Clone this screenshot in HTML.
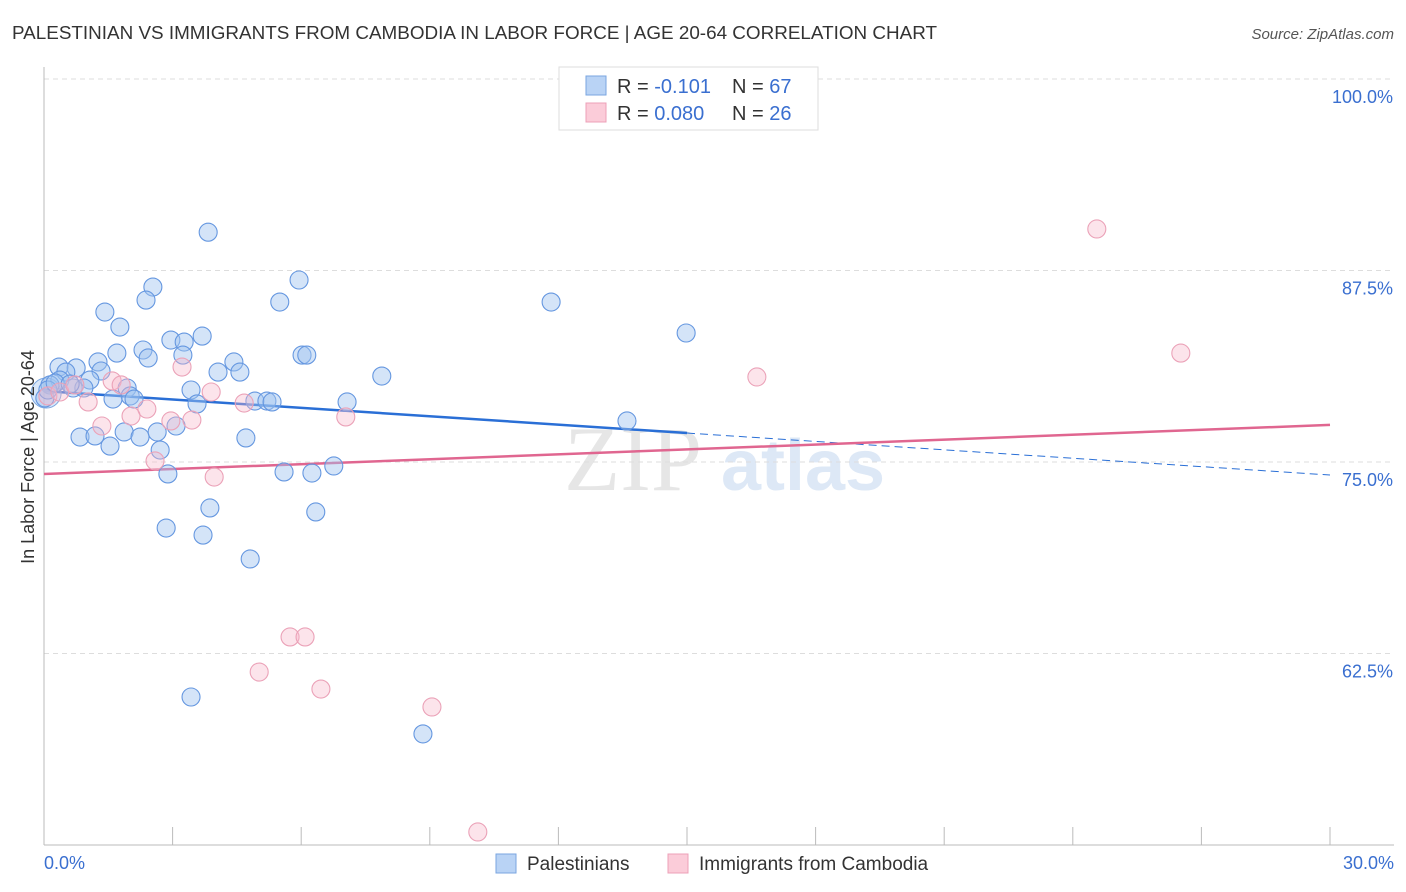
<!DOCTYPE html>
<html><head><meta charset="utf-8"><style>
body{margin:0;background:#fff;font-family:"Liberation Sans",sans-serif}
svg{display:block}
</style></head><body>
<svg id="chart" width="1406" height="892">
<text x="12" y="39" font-size="18" fill="#333" textLength="925" lengthAdjust="spacingAndGlyphs">PALESTINIAN VS IMMIGRANTS FROM CAMBODIA IN LABOR FORCE | AGE 20-64 CORRELATION CHART</text>
<text x="1394" y="39" font-size="15" fill="#555" font-style="italic" text-anchor="end">Source: ZipAtlas.com</text>
<g>
<text x="633" y="490" font-size="92" fill="#e6e6e6" font-family="Liberation Serif,serif" text-anchor="middle">ZIP</text>
<text x="803" y="490" font-size="72" fill="#dde8f6" text-anchor="middle" font-weight="bold">atlas</text>
</g>
<g id="grid"></g><g id="axes"></g><g id="trend"></g><g id="pts"></g>
<text transform="translate(34,457) rotate(-90)" font-size="18" fill="#333" text-anchor="middle">In Labor Force | Age 20-64</text>
<text x="44" y="869" font-size="18" fill="#3a6fd0">0.0%</text>
<text x="1394" y="869" font-size="18" fill="#3a6fd0" text-anchor="end">30.0%</text>
<g>
<rect x="559" y="67" width="259" height="63" fill="#fff" stroke="#ddd"/>
<rect x="586" y="76" width="20" height="19" fill="#b9d3f5" stroke="#7aa6e0"/>
<rect x="586" y="103" width="20" height="19" fill="#fbccd9" stroke="#eda0b8"/>
<text x="617" y="93" font-size="20" fill="#333">R = <tspan fill="#3a6fd0">-0.101</tspan><tspan x="732">N = </tspan><tspan fill="#3a6fd0">67</tspan></text>
<text x="617" y="120" font-size="20" fill="#333">R = <tspan fill="#3a6fd0">0.080</tspan><tspan x="732">N = </tspan><tspan fill="#3a6fd0">26</tspan></text>
</g>
<g>
<rect x="496" y="854" width="20" height="19" fill="#b9d3f5" stroke="#7aa6e0"/>
<text x="527" y="870" font-size="19" fill="#333">Palestinians</text>
<rect x="668" y="854" width="20" height="19" fill="#fbccd9" stroke="#eda0b8"/>
<text x="699" y="870" font-size="19" fill="#333">Immigrants from Cambodia</text>
</g>
</svg>
<script>
const yTicks=[100,87.5,75,62.5];
const yTickLabels=["100.0%","87.5%","75.0%","62.5%"];
const xTicks=[0,3,6,9,12,15,18,21,24,27,30];
const blueX=[3.83,2.54,2.38,5.95,5.50,1.42,1.77,2.96,3.69,3.27,1.70,2.31,2.43,3.24,6.02,6.13,4.43,4.57,4.06,1.26,0.35,0.75,0.51,1.33,1.07,0.37,0.14,0.68,0.93,1.94,2.01,1.61,2.10,3.43,3.57,4.92,5.20,5.32,7.07,7.88,11.83,14.98,13.60,0.84,1.19,1.87,2.24,2.64,3.08,1.54,2.71,4.71,2.89,5.60,6.25,6.76,3.87,6.34,2.85,3.71,4.81,3.43,8.84,0.02,0.09,0.26,0.61];
const blueY=[90.0,86.42,85.57,86.88,85.44,84.79,83.81,82.96,83.22,82.83,82.11,82.31,81.79,81.98,81.98,81.98,81.53,80.87,80.87,81.53,81.20,81.14,80.87,80.94,80.35,80.35,80.03,79.83,79.83,79.83,79.31,79.11,79.11,79.70,78.79,78.98,78.98,78.92,78.92,80.61,85.44,83.42,77.68,76.63,76.70,76.96,76.63,76.96,77.35,76.04,75.78,76.57,74.22,74.35,74.28,74.74,72.00,71.74,70.69,70.23,68.67,59.66,57.25,79.18,79.70,80.16,80.09];
const pinkX=[24.56,26.52,16.63,3.22,3.90,1.59,1.80,1.03,2.40,4.67,2.03,2.96,3.45,7.04,1.35,2.59,3.97,5.74,6.09,5.02,6.46,9.05,10.12,0.09,0.37,0.72];
const pinkY=[90.21,82.11,80.55,81.20,79.57,80.29,80.03,78.92,78.46,78.85,78.0,77.68,77.74,77.94,77.35,75.07,74.02,63.58,63.58,61.29,60.18,59.01,50.85,79.31,79.57,80.03];
const blueTrend=[79.63,74.15];
const pinkTrend=[74.22,77.42];
const X0=44,X1=1330,Y0=845,PX=(X1-X0)/30,PY=15.32;
const sx=v=>X0+v*PX, sy=v=>Y0-(v-50)*PY;
const NS="http://www.w3.org/2000/svg";
function mk(tag,attrs,parent){const e=document.createElementNS(NS,tag);for(const k in attrs)e.setAttribute(k,attrs[k]);document.getElementById(parent).appendChild(e);return e;}
yTicks.forEach((t,i)=>{
 const l=mk('line',{x1:X0,x2:1394,y1:sy(t),y2:sy(t),stroke:'#ddd','stroke-dasharray':'5,4'},'grid');
 
 
 const tx=mk('text',{x:1393,y:sy(t)+24,'font-size':18,fill:'#3a6fd0','text-anchor':'end'},'grid');
 tx.textContent=yTickLabels[i];
 
 
});
const ya=mk('line',{x1:X0,x2:X0,y1:67,y2:Y0,stroke:'#bbb'},'axes');


const xa=mk('line',{x1:X0,x2:1394,y1:Y0,y2:Y0,stroke:'#bbb'},'axes');


xTicks.forEach(t=>{
 const l=mk('line',{x1:sx(t),x2:sx(t),y1:Y0,y2:Y0-18,stroke:'#bbb'},'axes');
 
 
});
const big=mk('circle',{cx:sx(0.05),cy:sy(79.5),r:15,fill:'rgba(160,196,240,0.4)',stroke:'#7aa6e0'},'pts');


blueX.forEach((x,i)=>{
 const c=mk('circle',{cx:sx(x),cy:sy(blueY[i]),r:9,fill:'rgba(160,196,240,0.45)',stroke:'#6597e0','stroke-width':1.1},'pts');
 
 
});
pinkX.forEach((x,i)=>{
 const c=mk('circle',{cx:sx(x),cy:sy(pinkY[i]),r:9,fill:'rgba(246,184,202,0.38)',stroke:'#eba2b8','stroke-width':1.1},'pts');
 
 
});
const bm=blueTrend[0]+(blueTrend[1]-blueTrend[0])*0.5;
const b1=mk('line',{x1:sx(0),y1:sy(blueTrend[0]),x2:sx(15),y2:sy(bm),stroke:'#2a6fd6','stroke-width':2.5},'trend');


const b2=mk('line',{x1:sx(15),y1:sy(bm),x2:sx(30),y2:sy(blueTrend[1]),stroke:'#2a6fd6','stroke-width':1,'stroke-dasharray':'8,5'},'trend');


const p1=mk('line',{x1:sx(0),y1:sy(pinkTrend[0]),x2:sx(30),y2:sy(pinkTrend[1]),stroke:'#e06690','stroke-width':2.5},'trend');


</script>
</body></html>
